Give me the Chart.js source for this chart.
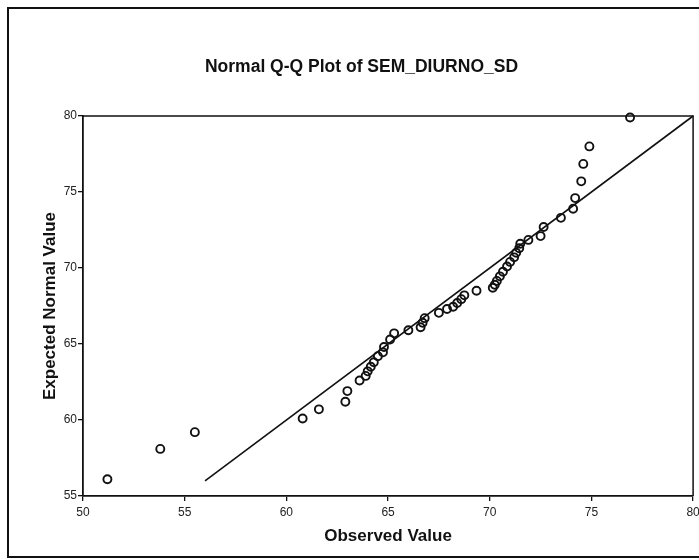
<!DOCTYPE html>
<html>
<head>
<meta charset="utf-8">
<title>Normal Q-Q Plot of SEM_DIURNO_SD</title>
<script src="https://cdn.jsdelivr.net/npm/chart.js@4.4.1/dist/chart.umd.min.js"></script>
<style>
  html, body { margin: 0; padding: 0; background: #fff; }
  #wrap { width: 699px; height: 560px; position: relative; }
</style>
</head>
<body>
<div id="wrap"><canvas id="qq"></canvas></div>
<script>
// observed quantiles (x) and their expected normal values (y)
const observedValues = [
  51.2, 53.8, 55.5, 60.8, 61.6, 62.9, 63.0, 63.6, 63.9, 64.0,
  64.15, 64.3, 64.5, 64.75, 64.8, 65.1, 65.3, 66.0, 66.6, 66.7,
  66.8, 67.5, 67.9, 68.2, 68.4, 68.6, 68.75, 69.35, 70.15, 70.25,
  70.35, 70.5, 70.65, 70.85, 71.0, 71.2, 71.3, 71.45, 71.5, 71.9,
  72.5, 72.65, 73.5, 74.1, 74.2, 74.5, 74.6, 74.9, 76.9
];
const expectedValues = [
  56.1, 58.1, 59.2, 60.1, 60.7, 61.2, 61.9, 62.6, 62.9, 63.2,
  63.5, 63.8, 64.2, 64.45, 64.8, 65.3, 65.7, 65.9, 66.1, 66.4,
  66.7, 67.05, 67.3, 67.45, 67.7, 67.95, 68.2, 68.5, 68.7, 68.9,
  69.15, 69.45, 69.75, 70.1, 70.4, 70.7, 71.0, 71.3, 71.6, 71.85,
  72.1, 72.7, 73.3, 73.9, 74.6, 75.7, 76.85, 78.0, 79.9
];
// reference line y = x
const refLineX = [56, 80];
const refLineY = [56, 80];

const xTicks = [50, 55, 60, 65, 70, 75, 80];
const yTicks = [55, 60, 65, 70, 75, 80];

const ink = '#111';
const font = 'Arial, "Liberation Sans", Helvetica, sans-serif';

// outer frame and plot box
const framePlugin = {
  id: 'frame',
  beforeDraw(chart) {
    const { ctx } = chart;
    ctx.save();
    ctx.fillStyle = '#fff';
    ctx.fillRect(0, 0, chart.width, chart.height);
    ctx.strokeStyle = ink;
    ctx.lineWidth = 2;
    ctx.strokeRect(8, 8, 760, 549);
    ctx.restore();
  },
  afterDatasetsDraw(chart) {
    const { ctx, chartArea: a } = chart;
    ctx.save();
    ctx.strokeStyle = ink;
    ctx.lineWidth = 1.5;
    ctx.beginPath();
    ctx.moveTo(a.left, a.top);
    ctx.lineTo(a.right, a.top);
    ctx.lineTo(a.right, a.bottom);
    ctx.stroke();
    ctx.restore();
  }
};

new Chart(document.getElementById('qq'), {
  type: 'scatter',
  data: {
    datasets: [
      {
        type: 'line',
        data: refLineX.map((x, i) => ({ x, y: refLineY[i] })),
        borderColor: ink,
        borderWidth: 1.6,
        pointRadius: 0,
        fill: false,
        clip: false
      },
      {
        data: observedValues.map((x, i) => ({ x, y: expectedValues[i] })),
        pointStyle: 'circle',
        pointRadius: 4,
        pointBorderWidth: 1.9,
        pointBorderColor: ink,
        pointBackgroundColor: 'rgba(255,255,255,0)',
        clip: false
      }
    ]
  },
  options: {
    responsive: true,
    maintainAspectRatio: false,
    animation: false,
    events: [],
    layout: { padding: { left: 26, right: 2, top: 0, bottom: 0 } },
    plugins: {
      legend: { display: false },
      tooltip: { enabled: false },
      title: {
        display: true,
        text: 'Normal Q-Q Plot of SEM_DIURNO_SD',
        color: ink,
        font: { family: font, size: 17.5, weight: 'bold' },
        padding: { top: 57, bottom: 38 }
      }
    },
    scales: {
      x: {
        type: 'linear',
        min: 50,
        max: 80,
        afterBuildTicks: s => { s.ticks = xTicks.map(v => ({ value: v })); },
        afterFit: s => { s.height = 64; s.paddingLeft = 0; s.paddingRight = 0; },
        border: { display: true, color: ink, width: 1.8 },
        grid: { display: true, drawOnChartArea: false, drawTicks: true, tickLength: 5, color: ink, lineWidth: 1.3 },
        ticks: { color: '#222', padding: 4, maxRotation: 0, autoSkip: false, font: { family: font, size: 12 } },
        title: {
          display: true,
          text: 'Observed Value',
          color: ink,
          font: { family: font, size: 17, weight: 'bold' },
          padding: { top: 0, bottom: 13 }
        }
      },
      y: {
        type: 'linear',
        min: 55,
        max: 80,
        afterBuildTicks: s => { s.ticks = yTicks.map(v => ({ value: v })); },
        afterFit: s => { s.width = 57; s.paddingTop = 0; s.paddingBottom = 0; },
        border: { display: true, color: ink, width: 1.8 },
        grid: { display: true, drawOnChartArea: false, drawTicks: true, tickLength: 5, color: ink, lineWidth: 1.3 },
        ticks: { color: '#222', padding: 1, autoSkip: false, font: { family: font, size: 12 } },
        title: {
          display: true,
          text: 'Expected Normal Value',
          color: ink,
          font: { family: font, size: 17, weight: 'bold' },
          padding: { top: 14, bottom: 0 }
        }
      }
    }
  },
  plugins: [framePlugin]
});
</script>
</body>
</html>
